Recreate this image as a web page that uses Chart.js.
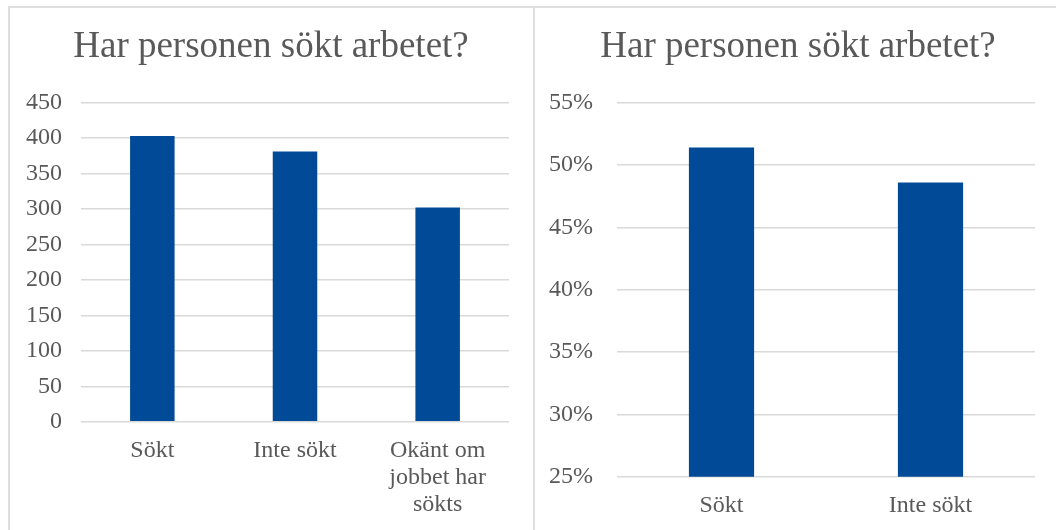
<!DOCTYPE html>
<html>
<head>
<meta charset="utf-8">
<script src="https://cdn.jsdelivr.net/npm/chart.js@4"></script>
<style>
  html, body { margin: 0; padding: 0; background: #ffffff; overflow: hidden; width: 1056px; height: 530px; }
  #frame { position: absolute; left: 8px; top: 6px; width: 1100px; height: 600px; border: 2px solid #dedede; box-sizing: border-box; }
  #divider { position: absolute; left: 533px; top: 6px; width: 2px; height: 600px; background: #dedede; }
  canvas { position: absolute; top: 0; }
  #c1 { left: 8px; }
  #c2 { left: 534px; }
</style>
</head>
<body>
<div id="frame"></div>
<div id="divider"></div>
<canvas id="c1" width="526" height="530"></canvas>
<canvas id="c2" width="528" height="530"></canvas>
<script>
const titleText = 'Har personen sökt arbetet?';
const countCategories = ['Sökt', 'Inte sökt', ['Okänt om', 'jobbet har', 'sökts']];
const countValues = [403, 381, 302];
const countTicks = { min: 0, max: 450, step: 50 };
const shareCategories = ['Sökt', 'Inte sökt'];
const shareValues = [51.4, 48.6];
const shareTicks = { min: 25, max: 55, step: 5 };

const barColor = '#004A98';
const textColor = '#595959';
const gridColor = '#d9d9d9';
const fontFamily = '"Liberation Serif", "Times New Roman", serif';

function makeChart(id, labels, values, ticks, opts) {
  return new Chart(document.getElementById(id), {
    type: 'bar',
    data: {
      labels: labels,
      datasets: [{
        data: values,
        backgroundColor: barColor,
        borderWidth: 0,
        barPercentage: 0.312,
        categoryPercentage: 1.0,
        yAxisID: 'y'
      }]
    },
    options: {
      responsive: false,
      animation: false,
      layout: { padding: 0 },
      plugins: {
        legend: { display: false },
        tooltip: { enabled: false },
        title: {
          display: true,
          text: titleText,
          color: textColor,
          font: { family: fontFamily, size: 37, weight: 'normal', lineHeight: 1.2 },
          padding: { top: 25.5, bottom: 32.8 }
        }
      },
      scales: {
        x: {
          grid: { display: false, drawTicks: false },
          border: { display: false },
          ticks: {
            color: textColor,
            font: { family: fontFamily, size: 24, lineHeight: 1.12 },
            padding: 15.5,
            maxRotation: 0,
            autoSkip: false
          },
          afterFit: function (s) { s.height = opts.xHeight; }
        },
        y: {
          min: ticks.min,
          max: ticks.max,
          grid: { color: gridColor, lineWidth: 1.5, drawTicks: false },
          border: { display: false },
          ticks: {
            stepSize: ticks.step,
            color: textColor,
            font: { family: fontFamily, size: 24 },
            padding: opts.yPad,
            callback: opts.fmt
          },
          afterFit: function (s) { s.width = opts.yWidth; }
        },
        spacer: {
          type: 'linear',
          position: 'right',
          display: true,
          grid: { display: false, drawTicks: false },
          border: { display: false },
          ticks: { display: false },
          afterFit: function (s) { s.width = opts.rightPad; }
        }
      }
    }
  });
}

makeChart('c1', countCategories, countValues, countTicks, {
  rightPad: 25, xHeight: 108.3, yWidth: 73, yPad: 19,
  fmt: function (v) { return String(v); }
});
makeChart('c2', shareCategories, shareValues, shareTicks, {
  rightPad: 27, xHeight: 53.3, yWidth: 83, yPad: 24,
  fmt: function (v) { return v + '%'; }
});
</script>
</body>
</html>
